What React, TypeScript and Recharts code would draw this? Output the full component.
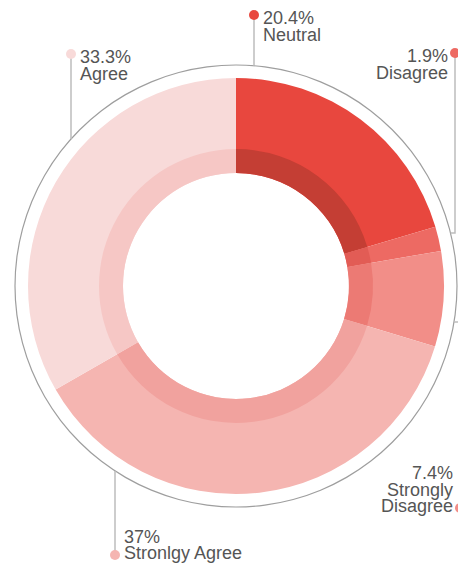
import React from "react";
import { PieChart, Pie, Cell } from "recharts";

// Survey answers, clockwise from 12 o'clock
const NAMES = ["Neutral", "Disagree", "Strongly Disagree", "Stronlgy Agree", "Agree"];
const VALUES = [20.4, 1.9, 7.4, 37, 33.3];

const COLORS = ["#e8473e", "#ed6a63", "#f28e88", "#f5b5b1", "#f8dad9"];
const BAND_COLORS = ["#c43e34", "#e25c55", "#ec7a74", "#f1a29e", "#f6c7c5"];

// where each callout sits, offsets from the pie centre
const CALLOUTS = [
    { dx: 18, dy: -271, elbowY: null, anchor: "start", top: true, wrap: false },
    { dx: 219, dy: -233, elbowY: -53, anchor: "end", top: true, wrap: false },
    { dx: 224, dy: 222, elbowY: 36, anchor: "end", top: false, wrap: true },
    { dx: -121, dy: 269, elbowY: null, anchor: "start", top: false, wrap: false },
    { dx: -165, dy: -232, elbowY: null, anchor: "start", top: true, wrap: false },
];

const RING_R = 221;
const LINE_H = 16.5;

const data = NAMES.map((name, i) => ({ name, value: VALUES[i] }));

function Callout(props: any) {
    const { cx, cy, index } = props;
    const c = CALLOUTS[index];
    const dotX = cx + c.dx;
    const dotY = cy + c.dy;
    let path = "";
    if (c.elbowY === null) {
        const yOnRing = Math.sign(c.dy) * Math.sqrt(RING_R * RING_R - c.dx * c.dx);
        path = `M${dotX},${dotY} L${dotX},${cy + yOnRing}`;
    } else {
        const xOnRing = Math.sqrt(RING_R * RING_R - c.elbowY * c.elbowY);
        path = `M${dotX},${dotY} L${dotX},${cy + c.elbowY} L${cx + xOnRing},${cy + c.elbowY}`;
    }
    const name = NAMES[index];
    const lines = [`${VALUES[index]}%`, ...(c.wrap ? name.split(" ") : [name])];
    const tx = c.anchor === "start" ? dotX + 9 : dotX - 7;
    const firstY = c.top ? dotY + 9 : dotY + 4 - LINE_H * (lines.length - 1);
    return (
        <g>
            <path d={path} stroke="#bdbdbd" strokeWidth={1.5} fill="none" />
            <circle cx={dotX} cy={dotY} r={5} fill={COLORS[index]} />
            <text
                x={tx}
                y={firstY}
                textAnchor={c.anchor}
                fill="#555"
                fontSize={18}
                fontFamily="'Liberation Sans', Arial, sans-serif"
            >
                {lines.map((l, i) => (
                    <tspan key={i} x={tx} dy={i === 0 ? 0 : LINE_H}>
                        {l}
                    </tspan>
                ))}
            </text>
        </g>
    );
}

export default function App() {
    return (
        <div style={{ position: "absolute", left: 0, top: 0, background: "#fff" }}>
            <PieChart width={458} height={565} margin={{ top: 0, right: 0, bottom: 0, left: 0 }}>
                {/* thin outer ring */}
                <Pie
                    data={[{ value: 1 }]}
                    dataKey="value"
                    cx={236}
                    cy={286}
                    innerRadius={RING_R - 0.6}
                    outerRadius={RING_R + 0.6}
                    fill="#9e9e9e"
                    stroke="none"
                    isAnimationActive={false}
                />
                <Pie
                    data={data}
                    dataKey="value"
                    cx={236}
                    cy={286}
                    startAngle={90}
                    endAngle={-270}
                    innerRadius={113}
                    outerRadius={208}
                    stroke="none"
                    label={Callout}
                    labelLine={false}
                    isAnimationActive={false}
                >
                    {data.map((_, i) => (
                        <Cell key={`c-${i}`} fill={COLORS[i]} />
                    ))}
                </Pie>
                {/* darker inner band */}
                <Pie
                    data={data}
                    dataKey="value"
                    cx={236}
                    cy={286}
                    startAngle={90}
                    endAngle={-270}
                    innerRadius={113}
                    outerRadius={137}
                    stroke="none"
                    isAnimationActive={false}
                >
                    {data.map((_, i) => (
                        <Cell key={`b-${i}`} fill={BAND_COLORS[i]} />
                    ))}
                </Pie>
            </PieChart>
        </div>
    );
}
